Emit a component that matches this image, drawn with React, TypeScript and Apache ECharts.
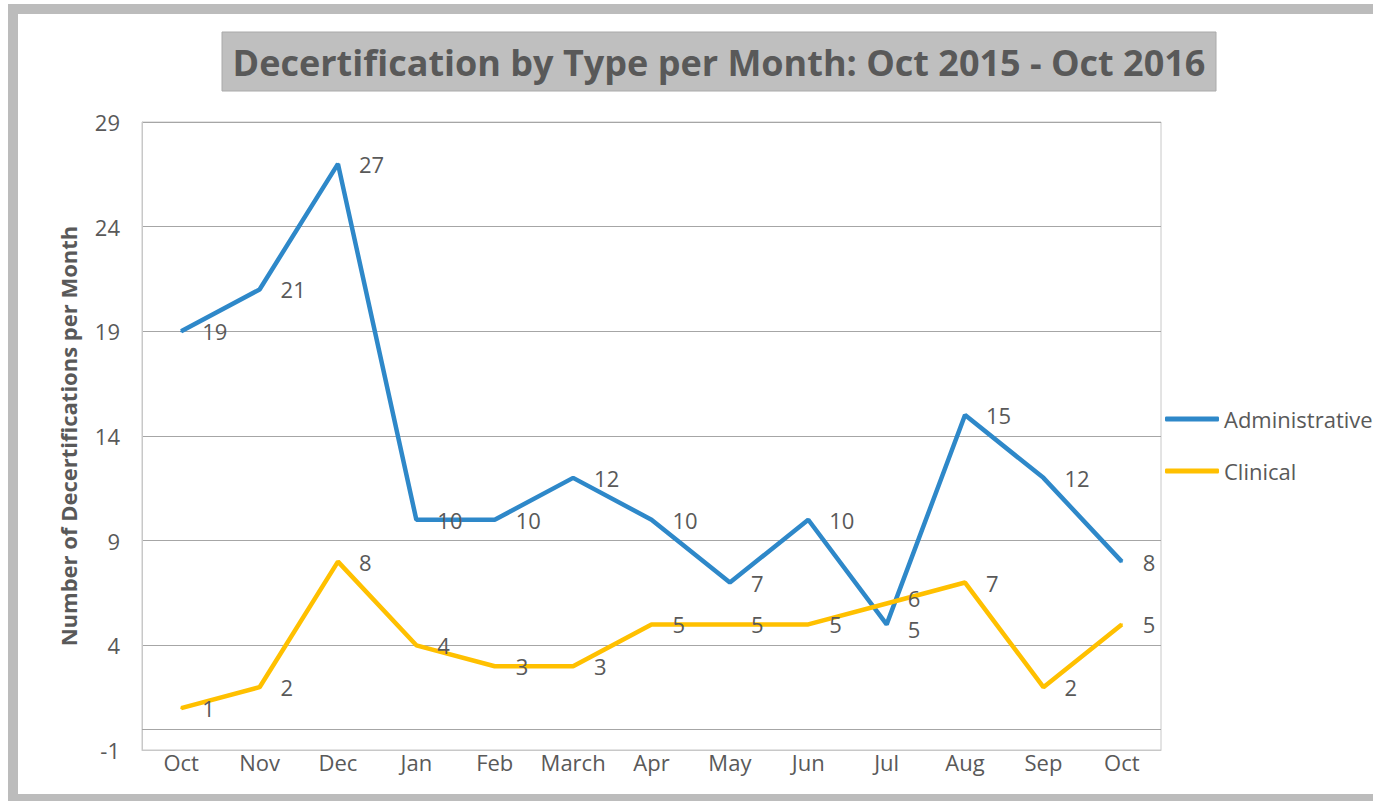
import React, { useEffect, useRef } from "react";
import * as echarts from "echarts";

const months = ["Oct", "Nov", "Dec", "Jan", "Feb", "March", "Apr", "May", "Jun", "Jul", "Aug", "Sep", "Oct"];
const administrative = [19, 21, 27, 10, 10, 12, 10, 7, 10, 5, 15, 12, 8];
const clinical = [1, 2, 8, 4, 3, 3, 5, 5, 5, 6, 7, 2, 5];
const titleText = "Decertification by Type per Month: Oct 2015 - Oct 2016";
const yAxisName = "Number of Decertifications per Month";

const FONT = "'Open Sans', Lato, sans-serif";
const TXT = "#595959";
const FS = 22;

export default function App() {
  const ref = useRef<HTMLDivElement>(null);
  useEffect(() => {
    const chart = echarts.init(ref.current!, null, { renderer: "svg" });
    const label = {
      show: true,
      position: "right",
      distance: 20,
      color: TXT,
      fontSize: FS,
      lineHeight: 20,
      fontFamily: FONT,
    };
    // Jul labels of both series sit close together: nudge them apart slightly
    const julIdx = 9;
    const adminData = administrative.map((v, i) =>
      i === julIdx ? { value: v, label: { offset: [0, 5] } } : v
    );
    const clinicalData = clinical.map((v, i) =>
      i === julIdx ? { value: v, label: { offset: [0, -5] } } : v
    );
    chart.setOption({
      animation: false,
      backgroundColor: "#ffffff",
      textStyle: { fontFamily: FONT },
      grid: {
        left: 142,
        right: 212,
        top: 122,
        bottom: 51,
        show: true,
        borderColor: "#c8c8c8",
        borderWidth: 1,
      },
      graphic: [
        {
          type: "rect",
          shape: { x: 13, y: 9, width: 1400, height: 790 },
          style: { fill: "none", stroke: "#bcbcbc", lineWidth: 10 },
          silent: true,
        },
        {
          type: "rect",
          shape: { x: 222, y: 32, width: 994, height: 59 },
          style: { fill: "#bfbfbf", stroke: "#aaaaaa", lineWidth: 1 },
          silent: true,
        },
        {
          type: "text",
          x: 719,
          y: 62,
          style: {
            text: titleText,
            fill: TXT,
            font: `bold 36px ${FONT}`,
            textAlign: "center",
            textVerticalAlign: "middle",
          },
          silent: true,
        },
      ],
      legend: {
        orient: "vertical",
        left: 1160,
        top: 403,
        itemGap: 30,
        itemWidth: 54,
        itemHeight: 5,
        icon: "roundRect",
        textStyle: { color: TXT, fontSize: FS, fontFamily: FONT },
        data: ["Administrative", "Clinical"],
      },
      xAxis: {
        type: "category",
        data: months,
        boundaryGap: true,
        axisLine: { show: true, onZero: false, lineStyle: { color: "#c8c8c8" } },
        axisTick: { show: false },
        axisLabel: { color: TXT, fontSize: FS, fontFamily: FONT, margin: 1, interval: 0 },
        splitLine: { show: false },
      },
      yAxis: {
        type: "value",
        min: -1,
        max: 29,
        interval: 5,
        name: yAxisName,
        nameLocation: "middle",
        nameGap: 63,
        nameTextStyle: { color: TXT, fontSize: 22, fontWeight: "bold", fontFamily: FONT },
        axisLine: { show: true, lineStyle: { color: "#c8c8c8" } },
        axisTick: { show: false },
        axisLabel: { color: TXT, fontSize: FS, fontFamily: FONT, margin: 22 },
        splitLine: { show: true, lineStyle: { color: "#a6a6a6", width: 1 } },
      },
      series: [
        {
          name: "Administrative",
          type: "line",
          data: adminData,
          symbol: "circle",
          symbolSize: 2,
          lineStyle: { color: "#2e88c9", width: 4.5 },
          itemStyle: { color: "#2e88c9" },
          label,
          markLine: {
            silent: true,
            symbol: "none",
            label: { show: false },
            lineStyle: { color: "#a6a6a6", width: 1, type: "solid" },
            data: [{ yAxis: 0 }],
          },
        },
        {
          name: "Clinical",
          type: "line",
          data: clinicalData,
          symbol: "circle",
          symbolSize: 2,
          lineStyle: { color: "#ffc000", width: 4.5 },
          itemStyle: { color: "#ffc000" },
          label,
        },
      ],
    });
    return () => chart.dispose();
  }, []);
  return (
    <div
      ref={ref}
      style={{ position: "absolute", left: 0, top: 0, width: 1373, height: 801 }}
    />
  );
}
